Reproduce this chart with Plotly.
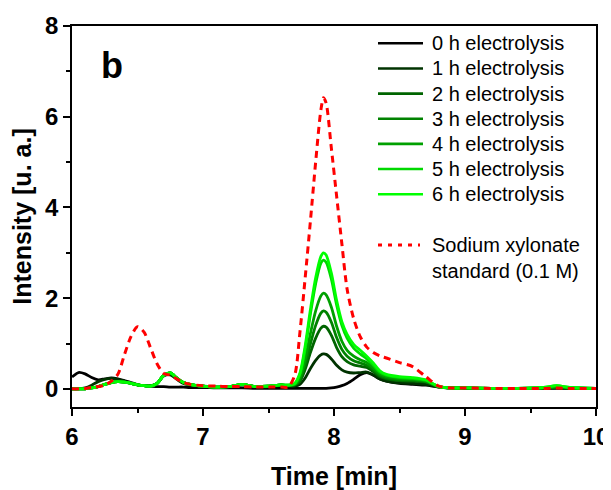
import plotly.graph_objects as go

# Shared time grid [min]
time = [6.00, 6.05, 6.10, 6.15, 6.20, 6.25, 6.30, 6.35, 6.40, 6.45, 6.50, 6.55, 6.60, 6.65,
        6.70, 6.75, 6.80, 6.85, 6.90, 7.00, 7.10, 7.20, 7.30, 7.40, 7.50, 7.60,
        7.65, 7.70, 7.74, 7.78, 7.82, 7.86, 7.90, 7.92, 7.94, 7.98, 8.02, 8.06, 8.10, 8.15,
        8.20, 8.25, 8.30, 8.35, 8.40, 8.50, 8.60, 8.70, 8.80, 8.90, 9.00, 9.20, 9.40, 9.60,
        9.70, 9.80, 10.00]

h0 = [0.26, 0.36, 0.33, 0.25, 0.20, 0.22, 0.24, 0.22, 0.18, 0.14, 0.09, 0.07, 0.06, 0.05,
      0.05, 0.04, 0.04, 0.04, 0.03, 0.03, 0.02, 0.02, 0.02, 0.01, 0.01, 0.01,
      0.01, 0.01, 0.01, 0.01, 0.01, 0.01, 0.01, 0.01, 0.01, 0.02, 0.04, 0.07, 0.12, 0.21,
      0.31, 0.36, 0.30, 0.22, 0.17, 0.12, 0.10, 0.08, 0.04, 0.02, 0.01, 0.01, 0.01, 0.01,
      0.01, 0.01, 0.01]
h1 = [0.00, 0.00, 0.02, 0.08, 0.16, 0.21, 0.23, 0.21, 0.17, 0.12, 0.09, 0.07, 0.07, 0.12,
      0.28, 0.31, 0.21, 0.12, 0.09, 0.06, 0.04, 0.05, 0.09, 0.05, 0.05, 0.08,
      0.06, 0.06, 0.10, 0.24, 0.45, 0.63, 0.75, 0.77, 0.76, 0.66, 0.52, 0.42, 0.37, 0.35,
      0.36, 0.37, 0.31, 0.22, 0.17, 0.13, 0.12, 0.10, 0.04, 0.02, 0.01, 0.01, 0.01, 0.01,
      0.02, 0.01, 0.01]
h2 = [0.00, 0.00, 0.00, 0.02, 0.05, 0.10, 0.14, 0.16, 0.15, 0.12, 0.09, 0.07, 0.06, 0.12,
      0.30, 0.35, 0.24, 0.14, 0.10, 0.06, 0.04, 0.05, 0.10, 0.05, 0.06, 0.09,
      0.07, 0.08, 0.17, 0.43, 0.80, 1.12, 1.34, 1.38, 1.36, 1.18, 0.91, 0.71, 0.60, 0.53,
      0.50, 0.47, 0.38, 0.27, 0.22, 0.18, 0.17, 0.15, 0.05, 0.02, 0.02, 0.01, 0.01, 0.02,
      0.03, 0.02, 0.01]
h3 = [0.00, 0.00, 0.00, 0.02, 0.05, 0.10, 0.14, 0.16, 0.15, 0.12, 0.09, 0.07, 0.06, 0.12,
      0.30, 0.35, 0.24, 0.14, 0.10, 0.06, 0.04, 0.05, 0.10, 0.05, 0.06, 0.09,
      0.07, 0.09, 0.20, 0.53, 0.99, 1.40, 1.67, 1.72, 1.69, 1.47, 1.13, 0.87, 0.72, 0.62,
      0.57, 0.52, 0.42, 0.30, 0.24, 0.20, 0.19, 0.16, 0.05, 0.02, 0.02, 0.01, 0.01, 0.02,
      0.04, 0.02, 0.01]
h4 = [0.00, 0.00, 0.00, 0.02, 0.05, 0.10, 0.14, 0.16, 0.15, 0.12, 0.09, 0.07, 0.06, 0.12,
      0.30, 0.35, 0.24, 0.14, 0.10, 0.06, 0.04, 0.05, 0.10, 0.05, 0.06, 0.09,
      0.08, 0.10, 0.25, 0.65, 1.22, 1.72, 2.05, 2.11, 2.07, 1.80, 1.38, 1.05, 0.85, 0.72,
      0.64, 0.58, 0.46, 0.33, 0.27, 0.22, 0.21, 0.17, 0.05, 0.02, 0.02, 0.01, 0.01, 0.02,
      0.05, 0.02, 0.01]
h5 = [0.00, 0.00, 0.00, 0.02, 0.05, 0.10, 0.14, 0.16, 0.15, 0.12, 0.09, 0.07, 0.06, 0.12,
      0.30, 0.35, 0.24, 0.14, 0.10, 0.06, 0.04, 0.05, 0.10, 0.05, 0.06, 0.09,
      0.08, 0.11, 0.32, 0.88, 1.65, 2.32, 2.77, 2.84, 2.79, 2.42, 1.85, 1.40, 1.12, 0.90,
      0.77, 0.66, 0.52, 0.37, 0.30, 0.25, 0.23, 0.19, 0.05, 0.02, 0.02, 0.01, 0.01, 0.03,
      0.07, 0.03, 0.01]
h6 = [0.00, 0.00, 0.00, 0.02, 0.05, 0.10, 0.14, 0.16, 0.15, 0.12, 0.09, 0.07, 0.06, 0.12,
      0.30, 0.35, 0.24, 0.14, 0.10, 0.06, 0.04, 0.05, 0.10, 0.05, 0.06, 0.09,
      0.08, 0.12, 0.35, 0.95, 1.75, 2.45, 2.92, 3.00, 2.95, 2.55, 1.95, 1.48, 1.20, 0.98,
      0.85, 0.72, 0.57, 0.40, 0.32, 0.27, 0.25, 0.20, 0.05, 0.02, 0.02, 0.01, 0.01, 0.03,
      0.07, 0.03, 0.01]
standard = [0.00, 0.00, 0.01, 0.03, 0.05, 0.08, 0.17, 0.32, 0.75, 1.15, 1.37, 1.25, 0.90, 0.55,
            0.34, 0.30, 0.22, 0.14, 0.10, 0.07, 0.06, 0.05, 0.05, 0.04, 0.04, 0.04,
            0.04, 0.30, 1.25, 2.45, 3.70, 5.00, 6.15, 6.42, 6.30, 5.30, 4.25, 3.20, 2.20, 1.55,
            1.15, 0.92, 0.80, 0.73, 0.68, 0.58, 0.49, 0.27, 0.06, 0.02, 0.02, 0.01, 0.01, 0.01,
            0.02, 0.01, 0.01]

names = ["0 h electrolysis", "1 h electrolysis", "2 h electrolysis", "3 h electrolysis",
         "4 h electrolysis", "5 h electrolysis", "6 h electrolysis"]
series = [h0, h1, h2, h3, h4, h5, h6]
colors = ["#000000", "#003300", "#006400", "#008200", "#00A000", "#00D800", "#00FF00"]
std_name = "Sodium xylonate<br>standard (0.1 M)"
std_color = "#FF0000"

FONT = "Arial, 'Liberation Sans', sans-serif"

# Page has an 8px body margin: figure coords = screenshot coords - 8
OFF = 8
W, H = 611, 490
ML, MT = 72 - OFF, 26 - OFF          # plot area left/top in figure px
MR = W - (596 - OFF)                  # plot area right edge at 596 in screenshot
MB = H - (407 - OFF)                  # plot area bottom at 407 in screenshot
PW, PH = W - ML - MR, H - MT - MB


def px_to_paper(px, py):
    """screenshot pixel -> paper coordinates (legend / label placement only)"""
    fx, fy = px - OFF, py - OFF
    return (fx - ML) / PW, (H - MB - fy) / PH


fig = go.Figure()
for nm, ys, c in zip(names, series, colors):
    fig.add_trace(go.Scatter(x=time, y=ys, name=nm, mode="lines", showlegend=False,
                             line=dict(color=c, width=2.8, shape="spline", smoothing=0.8)))
fig.add_trace(go.Scatter(x=time, y=standard, name=std_name, mode="lines", showlegend=False,
                         line=dict(color=std_color, width=3, dash="7px,5px",
                                   shape="spline", smoothing=0.8)))

# Legend built from the same names / colours
leg_x0, leg_x1, leg_tx = 378, 423, 430
leg_y0, leg_dy = 43.3, 25.15
for i, (nm, c) in enumerate(zip(names, colors)):
    py = leg_y0 + i * leg_dy
    xa, ya = px_to_paper(leg_x0, py)
    xb, _ = px_to_paper(leg_x1, py)
    fig.add_shape(type="line", xref="paper", yref="paper", x0=xa, x1=xb, y0=ya, y1=ya,
                  line=dict(color=c, width=2.6))
    xt, _ = px_to_paper(leg_tx, py)
    fig.add_annotation(xref="paper", yref="paper", x=xt, y=ya, text=nm, showarrow=False,
                       xanchor="left", yanchor="middle",
                       font=dict(family=FONT, size=20, color="black"))
py_std = 245
xa, ya = px_to_paper(leg_x0, py_std)
xb, _ = px_to_paper(leg_x1 - 3, py_std)
fig.add_shape(type="line", xref="paper", yref="paper", x0=xa, x1=xb, y0=ya, y1=ya,
              line=dict(color=std_color, width=3, dash="4px,6px"))
xt, yt = px_to_paper(leg_tx, py_std + 13.3)
fig.add_annotation(xref="paper", yref="paper", x=xt, y=yt, text=std_name, showarrow=False,
                   xanchor="left", yanchor="middle", align="left",
                   font=dict(family=FONT, size=20, color="black"))

axis_common = dict(showline=True, linecolor="black", linewidth=1.5, mirror=True,
                   ticks="outside", ticklen=7, tickwidth=1.5, tickcolor="black",
                   showgrid=False, zeroline=False, automargin=False,
                   tickfont=dict(family=FONT, size=24, color="black", weight="bold"))

fig.update_xaxes(range=[6, 10], dtick=1, tick0=6,
                 minor=dict(dtick=0.5, ticks="outside", ticklen=4, tickcolor="black", tickwidth=1.5),
                 title=dict(text="Time [min]", font=dict(family=FONT, size=25, color="black", weight="bold"),
                            standoff=19),
                 **axis_common)
fig.update_yaxes(range=[-0.4, 8], dtick=2, tick0=0,
                 minor=dict(dtick=1, ticks="outside", ticklen=4, tickcolor="black", tickwidth=1.5),
                 title=dict(text="Intensity [u. a.]", font=dict(family=FONT, size=25, color="black", weight="bold"),
                            standoff=12),
                 **axis_common)

bx, by = px_to_paper(112, 65)
fig.add_annotation(x=bx, y=by, xref="paper", yref="paper", text="b", showarrow=False,
                   font=dict(family=FONT, size=36, color="black", weight="bold"),
                   xanchor="center", yanchor="middle")

fig.update_layout(
    width=W, height=H,
    margin=dict(l=ML, r=MR, t=MT, b=MB),
    paper_bgcolor="white", plot_bgcolor="white",
    font=dict(family=FONT, color="black"),
    showlegend=False,
)

fig.write_html("out.html")
